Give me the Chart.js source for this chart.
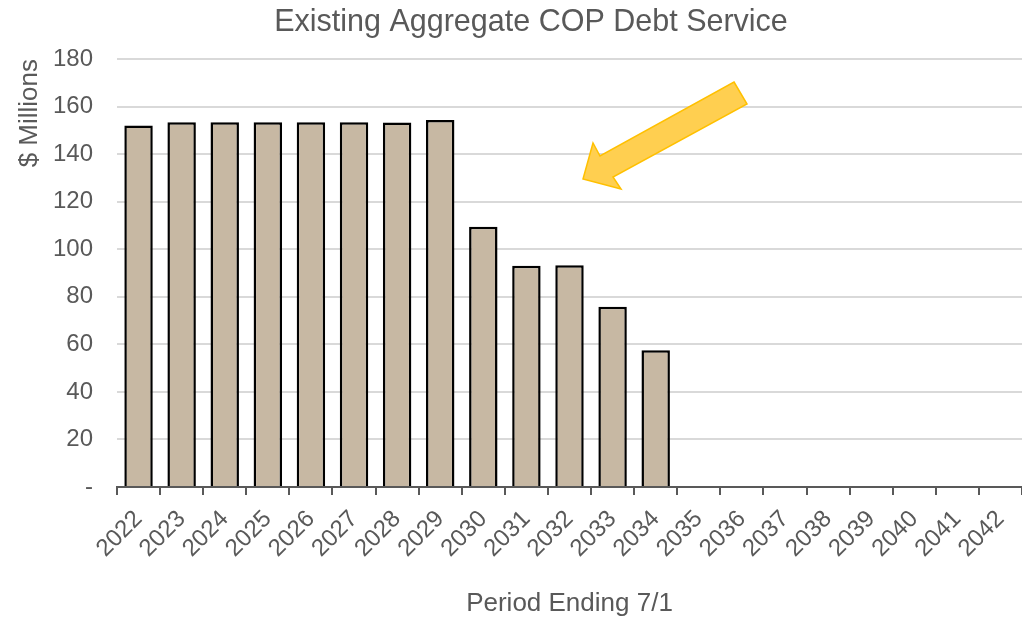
<!DOCTYPE html>
<html>
<head>
<meta charset="utf-8">
<script src="https://cdn.jsdelivr.net/npm/chart.js@4/dist/chart.umd.min.js"></script>
<style>
  html, body { margin: 0; padding: 0; background: #ffffff; }
  #wrap { width: 1022px; height: 619px; position: relative; }
</style>
</head>
<body>
<div id="wrap"><canvas id="c" width="1022" height="619"></canvas></div>
<script>
const chartTitle = 'Existing Aggregate COP Debt Service';
const yAxisTitle = '$ Millions';
const xAxisTitle = 'Period Ending 7/1';
const years = ['2022','2023','2024','2025','2026','2027','2028','2029','2030','2031','2032','2033','2034','2035','2036','2037','2038','2039','2040','2041','2042'];
const debtService = [152.0, 153.4, 153.4, 153.4, 153.4, 153.4, 153.3, 154.3, 109.5, 93.0, 93.3, 75.8, 57.5, 0, 0, 0, 0, 0, 0, 0, 0];
const yTicks = [0, 20, 40, 60, 80, 100, 120, 140, 160, 180];

const TEXT = '#595959';
const FONT = "'Liberation Sans', Arial, sans-serif";

const decor = {
  id: 'decor',
  afterDraw(chart) {
    const ctx = chart.ctx;
    ctx.save();
    // title
    ctx.fillStyle = TEXT;
    ctx.font = '30.5px ' + FONT;
    ctx.textAlign = 'center';
    ctx.textBaseline = 'middle';
    ctx.fillText(chartTitle, 531, 23);
    // callout arrow
    const pts = [[734,82],[747,104],[613,177],[621,189],[583,179],[593,143],[600,156]];
    ctx.beginPath();
    pts.forEach((p, i) => i ? ctx.lineTo(p[0], p[1]) : ctx.moveTo(p[0], p[1]));
    ctx.closePath();
    ctx.fillStyle = '#FFCF50';
    ctx.fill();
    ctx.lineWidth = 1.5;
    ctx.strokeStyle = '#FFC000';
    ctx.lineJoin = 'miter';
    ctx.stroke();
    ctx.restore();
  }
};

new Chart(document.getElementById('c'), {
  type: 'bar',
  data: {
    labels: years,
    datasets: [{
      label: 'Debt Service',
      data: debtService,
      backgroundColor: '#C7B8A3',
      borderColor: '#000000',
      borderWidth: 2.5,
      borderSkipped: 'bottom',
      barPercentage: 0.66,
      categoryPercentage: 1.0
    }]
  },
  options: {
    responsive: false,
    animation: false,
    devicePixelRatio: 1,
    layout: { padding: { top: 59, left: 0, right: 0, bottom: 0 } },
    plugins: {
      legend: { display: false },
      title: { display: false },
      tooltip: { enabled: false }
    },
    scales: {
      x: {
        offset: true,
        grid: {
          offset: true,
          drawOnChartArea: false,
          drawTicks: true,
          tickLength: 8,
          color: TEXT,
          lineWidth: 2
        },
        border: { display: true, color: TEXT, width: 2 },
        ticks: {
          color: TEXT,
          font: { family: FONT, size: 24 },
          minRotation: 45,
          maxRotation: 45,
          padding: 10,
          autoSkip: false
        },
        title: {
          display: true,
          text: xAxisTitle,
          color: TEXT,
          font: { family: FONT, size: 26 },
          padding: { top: 4, bottom: 0 }
        },
        afterFit(scale) { scale.height = 132; scale.paddingRight = 0; scale.paddingLeft = 0; }
      },
      y: {
        min: 0,
        max: 180,
        afterBuildTicks(scale) { scale.ticks = yTicks.map(v => ({ value: v })); },
        grid: {
          drawTicks: false,
          color: '#D9D9D9',
          lineWidth: 2
        },
        border: { display: false },
        ticks: {
          color: TEXT,
          font: { family: FONT, size: 24 },
          padding: 24,
          callback: (v) => v === 0 ? '-' : String(v)
        },
        title: {
          display: true,
          text: yAxisTitle,
          align: 'end',
          color: TEXT,
          font: { family: FONT, size: 26 },
          padding: { top: 14, bottom: 0 }
        },
        afterFit(scale) { scale.width = 117; }
      }
    }
  },
  plugins: [decor]
});
</script>
</body>
</html>
